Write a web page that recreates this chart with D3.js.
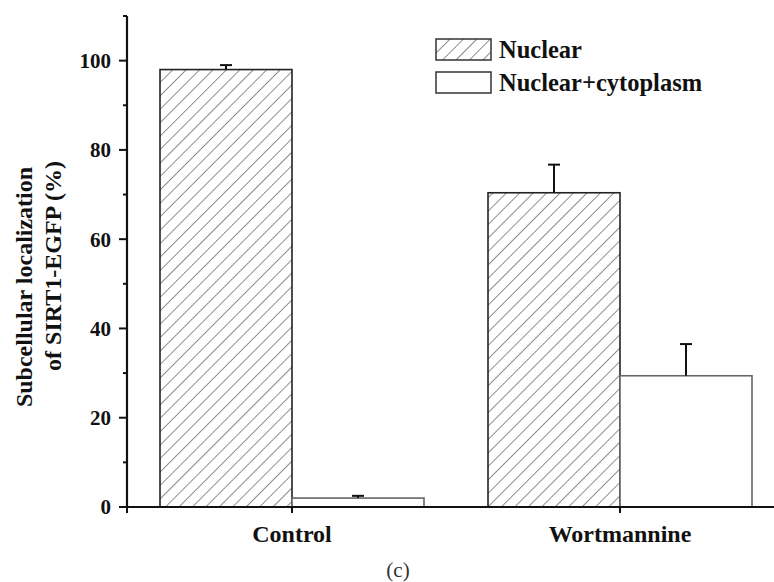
<!DOCTYPE html>
<html>
<head>
<meta charset="utf-8">
<script src="https://cdn.jsdelivr.net/npm/d3@7"></script>
<style>
body { margin: 0; background: #fff; }
text { font-family: "Liberation Serif", "Times New Roman", serif; }
</style>
</head>
<body>
<div id="chart"></div>
<script>
// data
var groups = ["Control", "Wortmannine"];
var seriesNames = ["Nuclear", "Nuclear+cytoplasm"];
var nuclear = [98.0, 70.4];
var nuclearErr = [1.0, 6.3];
var nucCyto = [2.0, 29.4];
var nucCytoErr = [0.5, 7.1];
var yTicks = [0, 20, 40, 60, 80, 100];

var svg = d3.select("#chart").append("svg")
  .attr("width", 774)
  .attr("height", 582);

// hatch pattern for the Nuclear bars
var defs = svg.append("defs");
defs.append("pattern")
  .attr("id", "hatch")
  .attr("patternUnits", "userSpaceOnUse")
  .attr("width", 9.5)
  .attr("height", 9.5)
  .attr("patternTransform", "rotate(45)")
  .append("line")
    .attr("x1", 0).attr("y1", 0)
    .attr("x2", 0).attr("y2", 9.5)
    .attr("stroke", "#444")
    .attr("stroke-width", 1.2);

var x0 = 127, y0 = 507;

var y = d3.scaleLinear().domain([0, 110]).range([y0, 16]);

var barW = 132;
var centers = [292, 620];

var data = groups.map(function(g, i) {
  return [
    {g: g, k: 0, v: nuclear[i], e: nuclearErr[i], cx: centers[i]},
    {g: g, k: 1, v: nucCyto[i], e: nucCytoErr[i], cx: centers[i]}
  ];
}).flat();

var bx = function(d) { return d.k == 0 ? d.cx - barW : d.cx; };

// bars
svg.selectAll("rect.bar")
  .data(data)
  .enter()
  .append("rect")
    .attr("class", "bar")
    .attr("x", bx)
    .attr("y", function(d) { return y(d.v); })
    .attr("width", barW)
    .attr("height", function(d) { return y0 - y(d.v); })
    .attr("fill", function(d) { return d.k == 0 ? "url(#hatch)" : "#fff"; })
    .attr("stroke", function(d) { return d.k == 0 ? "#222" : "#666"; })
    .attr("stroke-width", 1.6);

// error bars
var eb = svg.selectAll("g.err")
  .data(data)
  .enter()
  .append("g")
  .attr("class", "err");
eb.append("line")
  .attr("x1", function(d) { return bx(d) + barW / 2; })
  .attr("x2", function(d) { return bx(d) + barW / 2; })
  .attr("y1", function(d) { return y(d.v); })
  .attr("y2", function(d) { return y(d.v + d.e); })
  .attr("stroke", "#111").attr("stroke-width", 2);
eb.append("line")
  .attr("x1", function(d) { return bx(d) + barW / 2 - 6; })
  .attr("x2", function(d) { return bx(d) + barW / 2 + 6; })
  .attr("y1", function(d) { return y(d.v + d.e); })
  .attr("y2", function(d) { return y(d.v + d.e); })
  .attr("stroke", "#111").attr("stroke-width", 2);

// y axis
var yAxis = svg.append("g");
yAxis.append("line")
  .attr("x1", x0).attr("x2", x0)
  .attr("y1", y(110)).attr("y2", y0 + 1)
  .attr("stroke", "#111").attr("stroke-width", 2.2);
var minor = d3.range(10, 111, 20);
yAxis.selectAll("line.minor")
  .data(minor).enter().append("line")
  .attr("x1", x0 - 4).attr("x2", x0)
  .attr("y1", function(d) { return y(d); })
  .attr("y2", function(d) { return y(d); })
  .attr("stroke", "#111").attr("stroke-width", 2);
yAxis.selectAll("line.major")
  .data(yTicks).enter().append("line")
  .attr("x1", x0 - 8).attr("x2", x0)
  .attr("y1", function(d) { return y(d); })
  .attr("y2", function(d) { return y(d); })
  .attr("stroke", "#111").attr("stroke-width", 2);
yAxis.selectAll("text")
  .data(yTicks).enter().append("text")
  .attr("x", x0 - 16)
  .attr("y", function(d) { return y(d); })
  .attr("dy", "0.35em")
  .attr("text-anchor", "end")
  .attr("font-size", 21)
  .attr("font-weight", "bold")
  .attr("fill", "#111")
  .text(function(d) { return d; });

// x axis
svg.append("line")
  .attr("x1", x0 - 1).attr("x2", 774)
  .attr("y1", y0).attr("y2", y0)
  .attr("stroke", "#111").attr("stroke-width", 2.2);
svg.selectAll("line.xt")
  .data([x0].concat(centers)).enter().append("line")
  .attr("x1", function(d) { return d; })
  .attr("x2", function(d) { return d; })
  .attr("y1", y0).attr("y2", y0 + 6)
  .attr("stroke", "#111").attr("stroke-width", 2);
svg.selectAll("text.xl")
  .data(groups).enter().append("text")
  .attr("x", function(d, i) { return centers[i]; })
  .attr("y", 542)
  .attr("text-anchor", "middle")
  .attr("font-size", 24)
  .attr("font-weight", "bold")
  .attr("fill", "#111")
  .text(function(d) { return d; });

// y label
svg.append("text")
  .attr("transform", "translate(32,287) rotate(-90)")
  .attr("text-anchor", "middle")
  .attr("font-size", 24)
  .attr("font-weight", "bold")
  .attr("fill", "#111")
  .text("Subcellular localization");
svg.append("text")
  .attr("transform", "translate(61,266) rotate(-90)")
  .attr("text-anchor", "middle")
  .attr("font-size", 24)
  .attr("font-weight", "bold")
  .attr("fill", "#111")
  .text("of SIRT1-EGFP (%)");

// legend
var legend = svg.selectAll("g.leg")
  .data(seriesNames).enter().append("g")
  .attr("transform", function(d, i) { return "translate(436," + (39 + i * 33) + ")"; });
legend.append("rect")
  .attr("width", 55).attr("height", 21)
  .attr("fill", function(d, i) { return i == 0 ? "url(#hatch)" : "#fff"; })
  .attr("stroke", "#333").attr("stroke-width", 1.5);
legend.append("text")
  .attr("x", 63).attr("y", 19)
  .attr("font-size", 24.5)
  .attr("font-weight", "bold")
  .attr("fill", "#111")
  .text(function(d) { return d; });

// caption
svg.append("text")
  .attr("x", 398).attr("y", 577)
  .attr("text-anchor", "middle")
  .attr("font-size", 21)
  .attr("fill", "#333")
  .text("(c)");
</script>
</body>
</html>
